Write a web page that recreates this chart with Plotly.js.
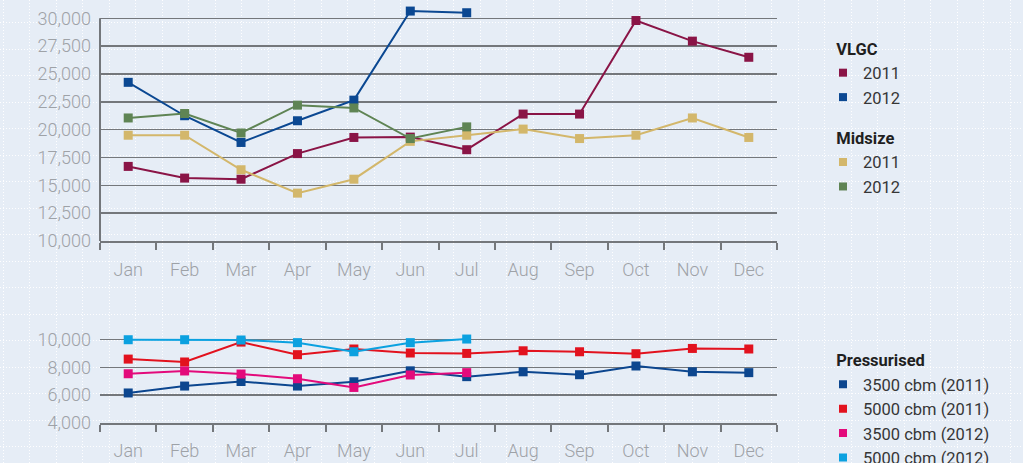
<!DOCTYPE html>
<html>
<head>
<meta charset="utf-8">
<script src="https://cdn.plot.ly/plotly-3.0.1.min.js"></script>
<style>html,body{margin:0;padding:0;background:#e6edf6;}#chart{width:1023px;height:463px;}</style>
</head>
<body>
<div id="chart"></div>
<script>
// ---------- data ----------
const months = ["Jan","Feb","Mar","Apr","May","Jun","Jul","Aug","Sep","Oct","Nov","Dec"];

// top panel (VLGC / Midsize)
const vlgc2011    = [16700, 15650, 15550, 17850, 19300, 19330, 18200, 21400, 21400, 29800, 27950, 26500];
const vlgc2012    = [24250, 21250, 18850, 20800, 22650, 30650, 30500];
const midsize2011 = [19500, 19500, 16400, 14300, 15550, 18950, 19500, 20050, 19200, 19500, 21050, 19300];
const midsize2012 = [21050, 21450, 19700, 22200, 21950, 19200, 20250];

// bottom panel (Pressurised)
const p3500_2011 = [6150, 6650, 6980, 6650, 6960, 7750, 7330, 7680, 7470, 8100, 7680, 7620];
const p5000_2011 = [8600, 8390, 9830, 8920, 9330, 9040, 9010, 9200, 9130, 8990, 9370, 9330];
const p3500_2012 = [7540, 7740, 7520, 7180, 6550, 7450, 7620];
const p5000_2012 = [10000, 10000, 9980, 9790, 9130, 9790, 10050];

const topTicks    = [10000, 12500, 15000, 17500, 20000, 22500, 25000, 27500, 30000];
const bottomTicks = [4000, 6000, 8000, 10000];

// ---------- styles ----------
const FONT = "Roboto, 'Open Sans', 'DejaVu Sans', sans-serif";
const GRID = "#74777b";
const TICKCOL = "#9ea2a7";
const C = {
  vlgc11: "#8a1446", vlgc12: "#0b4892", mid11: "#d3b76b", mid12: "#5f8454",
  p35_11: "#0c468f", p50_11: "#e2121e", p35_12: "#e30a7b", p50_12: "#0ba1e0"
};

function series(y, color, xa, ya) {
  return {
    x: months.slice(0, y.length), y: y, type: "scatter", mode: "lines+markers",
    xaxis: xa, yaxis: ya, showlegend: false, cliponaxis: false, hoverinfo: "skip",
    line: {color: color, width: 2},
    marker: {symbol: "square", size: 9, color: color}
  };
}
function legendItem(name, color, legend, group, groupTitle) {
  const t = {
    x: [null], y: [null], type: "scatter", mode: "markers", name: name,
    legend: legend, legendgroup: group, showlegend: true,
    marker: {symbol: "square", size: 8, color: color}
  };
  if (groupTitle) t.legendgrouptitle = {text: "\u00a0\u00a0" + groupTitle, font: {family: FONT, size: 16.5, color: "#1f1f1f", weight: "bold"}};
  return t;
}

const data = [
  series(vlgc2011, C.vlgc11, "x2", "y2"),
  series(vlgc2012, C.vlgc12, "x2", "y2"),
  series(midsize2011, C.mid11, "x2", "y2"),
  series(midsize2012, C.mid12, "x2", "y2"),
  series(p3500_2011, C.p35_11, "x3", "y3"),
  series(p5000_2011, C.p50_11, "x3", "y3"),
  series(p3500_2012, C.p35_12, "x3", "y3"),
  series(p5000_2012, C.p50_12, "x3", "y3"),
  legendItem("2011", C.vlgc11, "legend", "vlgc", "VLGC"),
  legendItem("2012", C.vlgc12, "legend", "vlgc"),
  legendItem("2011", C.mid11, "legend", "mid", "Midsize"),
  legendItem("2012", C.mid12, "legend", "mid"),
  legendItem("3500 cbm (2011)", C.p35_11, "legend2", "press", "Pressurised"),
  legendItem("5000 cbm (2011)", C.p50_11, "legend2", "press"),
  legendItem("3500 cbm (2012)", C.p35_12, "legend2", "press"),
  legendItem("5000 cbm (2012)", C.p50_12, "legend2", "press")
];

const W = 1023, H = 463;
const xDom = [100 / W, 777 / W];

function catAxis(anchor) {
  return {
    domain: xDom, anchor: anchor, type: "category", categoryarray: months, categoryorder: "array",
    range: [-0.5, 11.5], fixedrange: true,
    showgrid: false, zeroline: false, showline: true, linecolor: GRID, linewidth: 2,
    ticks: "outside", tickson: "boundaries", ticklen: 7, tickwidth: 2, tickcolor: GRID,
    ticklabelstandoff: 11,
    tickfont: {family: FONT, size: 18, color: TICKCOL, weight: 300}
  };
}
function valAxis(anchor, dom, range, ticks) {
  return {
    domain: dom, anchor: anchor, range: range, fixedrange: true,
    tickmode: "array", tickvals: ticks, ticktext: ticks.map(v => v.toLocaleString("en-US")),
    showgrid: true, gridcolor: GRID, gridwidth: 1.5, zeroline: false, showline: false,
    ticks: "", ticklabelstandoff: 8,
    tickfont: {family: FONT, size: 18, color: TICKCOL, weight: 300}
  };
}

const layout = {
  width: W, height: H,
  margin: {l: 0, r: 0, t: 0, b: 0, autoexpand: false},
  paper_bgcolor: "#e6edf6", plot_bgcolor: "rgba(0,0,0,0)",
  showlegend: true,
  // background dotted pattern
  xaxis: {domain: [0, 1], anchor: "y", range: [0, W], showgrid: true, tick0: 3.3, dtick: 26.5,
          gridcolor: "rgba(255,255,255,0.95)", gridwidth: 1, griddash: "1px,2px",
          showticklabels: false, zeroline: false, ticks: "", fixedrange: true},
  yaxis: {domain: [0, 1], anchor: "x", range: [H, 0], showgrid: true, tick0: 22.5, dtick: 26.5,
          gridcolor: "rgba(255,255,255,0.95)", gridwidth: 1, griddash: "1px,2px",
          showticklabels: false, zeroline: false, ticks: "", fixedrange: true},
  xaxis2: catAxis("y2"),
  yaxis2: valAxis("x2", [(H - 241) / H, (H - 9.4) / H], [10000, 30800], topTicks),
  xaxis3: catAxis("y3"),
  yaxis3: valAxis("x3", [(H - 422.7) / H, (H - 334.2) / H], [4000, 10400], bottomTicks),
  shapes: [{
    type: "line", xref: "x2 domain", x0: 0, x1: 0, yref: "y2",
    y0: topTicks[0], y1: topTicks[topTicks.length - 1],
    line: {color: GRID, width: 2}
  }],
  legend: {
    x: 823 / W, y: (H - 31) / H, xanchor: "left", yanchor: "top",
    bgcolor: "rgba(0,0,0,0)", traceorder: "grouped", tracegroupgap: 16,
    font: {family: FONT, size: 16.5, color: "#363636"}, itemclick: false, itemdoubleclick: false
  },
  legend2: {
    x: 823 / W, y: (H - 342.5) / H, xanchor: "left", yanchor: "top",
    bgcolor: "rgba(0,0,0,0)", traceorder: "grouped",
    font: {family: FONT, size: 16.5, color: "#363636"}, itemclick: false, itemdoubleclick: false
  }
};

Plotly.newPlot("chart", data, layout, {displayModeBar: false, staticPlot: true});
</script>
</body>
</html>
